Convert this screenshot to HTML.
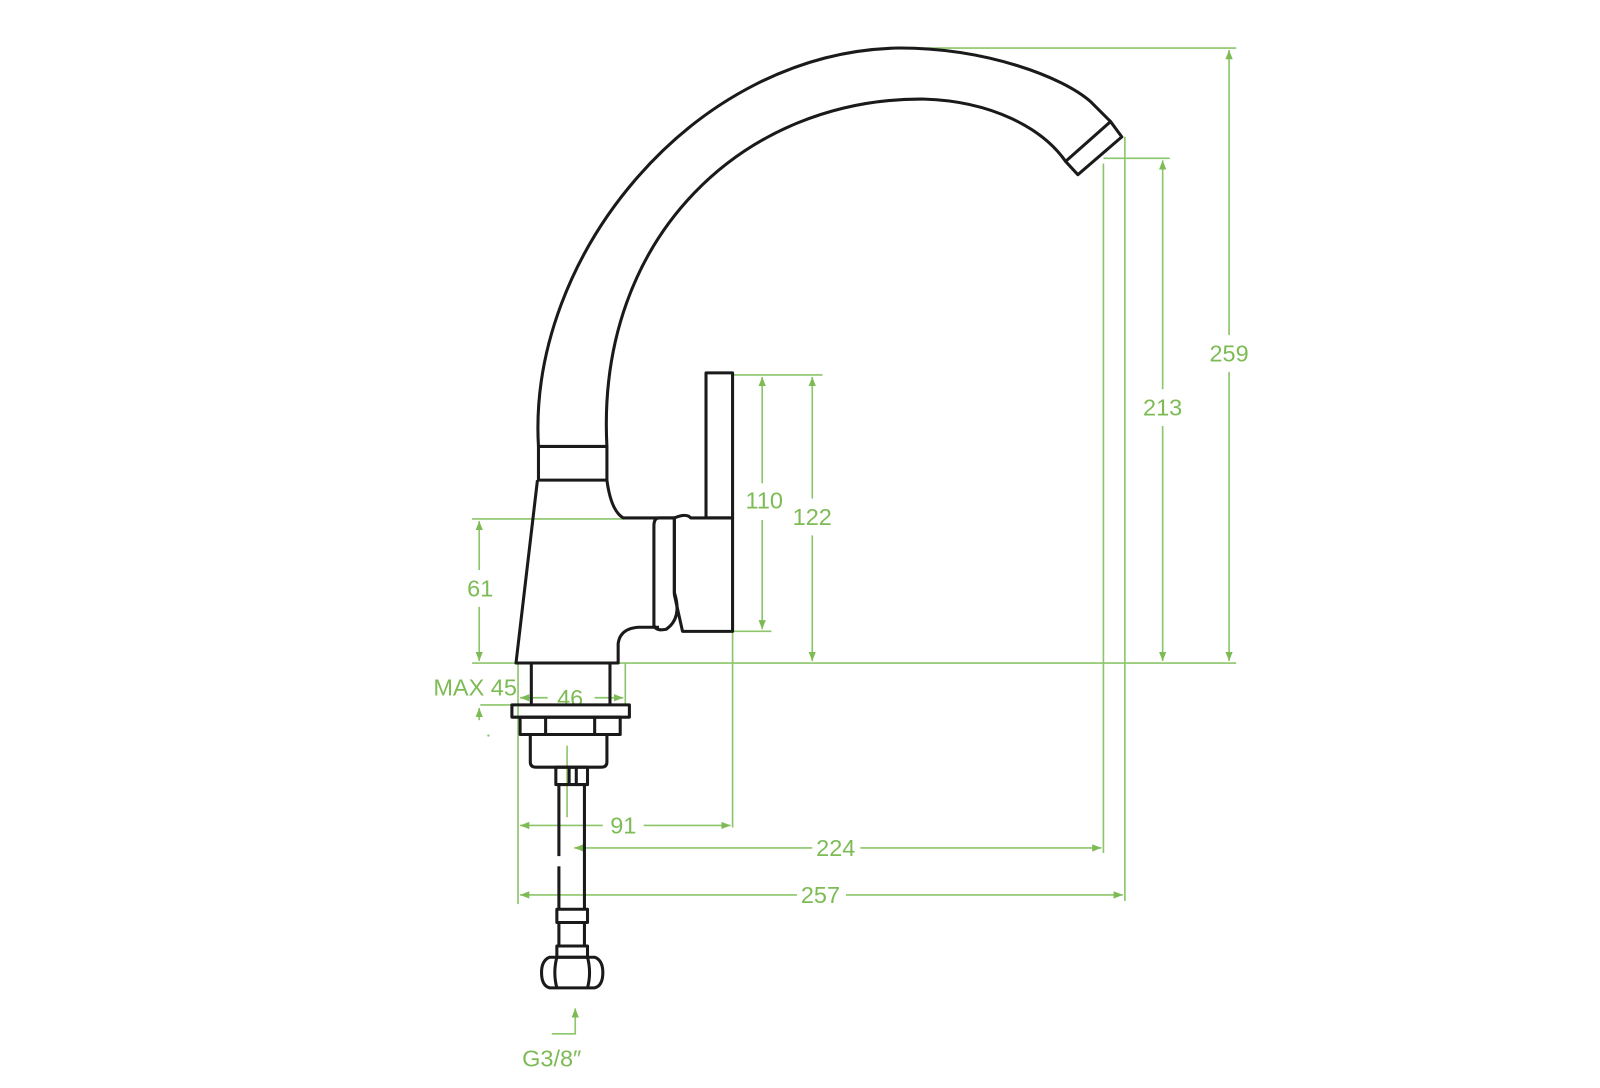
<!DOCTYPE html>
<html><head><meta charset="utf-8"><style>
html,body{margin:0;padding:0;background:#fff;}
svg{display:block;}
text{font-family:"Liberation Sans",sans-serif;font-size:23px;fill:#7dbb55;}
</style></head><body>
<svg width="1600" height="1088" viewBox="0 0 1566 1065" xmlns="http://www.w3.org/2000/svg">
<defs>
<marker id="a" viewBox="0 0 10 10" refX="10" refY="5" markerWidth="9" markerHeight="9" orient="auto-start-reverse" markerUnits="userSpaceOnUse">
<path d="M0,1 L10,5 L0,9 z" fill="#7dbb55"/></marker>
</defs>
<g stroke="#8cc66a" stroke-width="1.6" fill="none">
<line x1="880" y1="47" x2="1210" y2="47"/>
<line x1="605" y1="649" x2="1210" y2="649"/>
<line x1="462" y1="649" x2="508" y2="649"/>
<line x1="1080" y1="155" x2="1145" y2="155"/>
<line x1="717" y1="367" x2="805" y2="367"/>
<line x1="717" y1="618" x2="755" y2="618"/>
<line x1="462" y1="508" x2="610" y2="508"/>
<line x1="470" y1="690" x2="505" y2="690"/>
<line x1="1080" y1="160" x2="1080" y2="835"/>
<line x1="1101" y1="134" x2="1101" y2="882"/>
<line x1="717" y1="618" x2="717" y2="810"/>
<line x1="507" y1="649" x2="507" y2="885"/>
<line x1="612" y1="649" x2="612" y2="690"/>
<line x1="555" y1="730" x2="555" y2="800"/>
<line x1="1203" y1="49" x2="1203" y2="328" marker-start="url(#a)"/>
<line x1="1203" y1="364" x2="1203" y2="647" marker-end="url(#a)"/>
<line x1="1138" y1="157" x2="1138" y2="381" marker-start="url(#a)"/>
<line x1="1138" y1="417" x2="1138" y2="647" marker-end="url(#a)"/>
<line x1="746" y1="369" x2="746" y2="473" marker-start="url(#a)"/>
<line x1="746" y1="509" x2="746" y2="616" marker-end="url(#a)"/>
<line x1="795" y1="369" x2="795" y2="488" marker-start="url(#a)"/>
<line x1="795" y1="524" x2="795" y2="647" marker-end="url(#a)"/>
<line x1="469" y1="510" x2="469" y2="558" marker-start="url(#a)"/>
<line x1="469" y1="594" x2="469" y2="647" marker-end="url(#a)"/>
<line x1="469" y1="705" x2="469" y2="693" marker-end="url(#a)"/>
<line x1="509" y1="683" x2="536" y2="683" marker-start="url(#a)"/>
<line x1="582" y1="683" x2="610" y2="683" marker-end="url(#a)"/>
<line x1="509" y1="808" x2="590" y2="808" marker-start="url(#a)"/>
<line x1="630" y1="808" x2="715" y2="808" marker-end="url(#a)"/>
<line x1="562" y1="830" x2="795" y2="830" marker-start="url(#a)"/>
<line x1="842" y1="830" x2="1078" y2="830" marker-end="url(#a)"/>
<line x1="509" y1="876" x2="780" y2="876" marker-start="url(#a)"/>
<line x1="828" y1="876" x2="1099" y2="876" marker-end="url(#a)"/>
<polyline points="540,1012 563,1012 563,987" marker-end="url(#a)"/>
</g>
<circle cx="478" cy="720" r="1.2" fill="#8cc66a"/>
<g text-anchor="middle" dominant-baseline="central">
<text x="1203" y="346">259</text>
<text x="1138" y="399">213</text>
<text x="748" y="490">110</text>
<text x="795" y="506">122</text>
<text x="470" y="576">61</text>
<text x="465" y="673">MAX 45</text>
<text x="558" y="683">46</text>
<text x="610" y="808">91</text>
<text x="818" y="830">224</text>
<text x="803" y="876">257</text>
<text x="540" y="1036">G3/8″</text>
</g>
<g stroke="#1a1a1a" stroke-width="3" fill="none" stroke-linejoin="round">
<path d="M527,437 C516,250 680,50 880,47 C965,47 1040,75 1068,100 L1087,119"/>
<path d="M594,437 C583,230 730,95 905,97 C970,99 1020,125 1043,158"/>
<polygon points="1087,119 1098,134 1055,171 1043,158"/>
<rect x="527" y="437" width="67" height="33"/>
<path d="M526,470 L505,649 L605,649 L605,630 Q607,615 625,614 L645,614"/>
<path d="M594,470 Q598,500 610,507 L660,507"/>
<path d="M660,507 L645,507 Q640,507 640,515 L640,612 Q642,618 652,616 Q668,605 660,580 Z"/>
<path d="M660,507 Q672,502 676,507 L717,507 L717,618 L668,618 L660,582 L660,507"/>
<rect x="691" y="365" width="26" height="142"/>
<line x1="520" y1="649" x2="520" y2="690"/>
<line x1="597" y1="649" x2="597" y2="690"/>
<rect x="501" y="690" width="115" height="12"/>
<rect x="509" y="702" width="98" height="17"/>
<line x1="534" y1="702" x2="534" y2="719"/>
<line x1="582" y1="702" x2="582" y2="719"/>
<path d="M519,719 L519,746 Q519,751 525,751 L588,751 Q594,751 594,746 L594,719"/>
<rect x="544" y="751" width="31" height="17"/>
<line x1="557" y1="751" x2="557" y2="768"/>
<line x1="564" y1="751" x2="564" y2="768"/>
<line x1="547" y1="768" x2="547" y2="838"/>
<line x1="547" y1="848" x2="547" y2="890"/>
<line x1="572" y1="768" x2="572" y2="890"/>
<rect x="545" y="890" width="30" height="13"/>
<line x1="547" y1="903" x2="547" y2="926"/>
<line x1="572" y1="903" x2="572" y2="926"/>
<rect x="545" y="926" width="30" height="11"/>
<path d="M538,937 L582,937 Q590,940 590,952 Q590,965 582,967 L538,967 Q530,965 530,952 Q530,940 538,937 Z"/>
<path d="M545,937 Q541,952 545,967 M575,937 Q579,952 575,967"/>
</g>
</svg>
</body></html>
